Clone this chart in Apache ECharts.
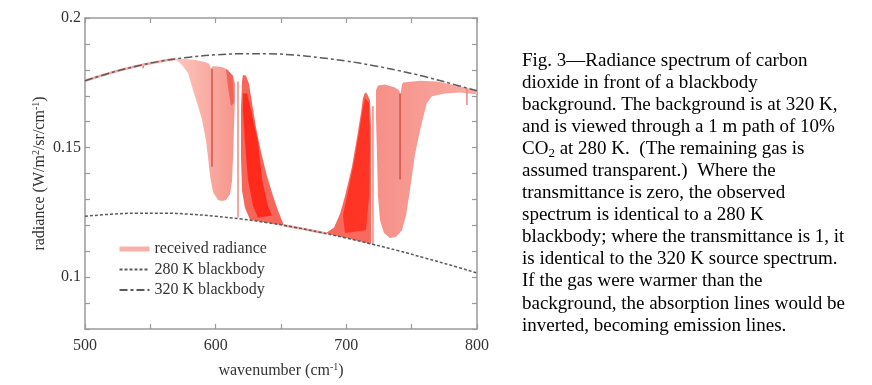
<!DOCTYPE html>
<html><head><meta charset="utf-8">
<script src="https://cdn.jsdelivr.net/npm/echarts@6/dist/echarts.min.js"></script>
<style>html,body{margin:0;padding:0;background:#fff}#c{width:872px;height:385px}</style>
</head><body><div id="c"></div>
<script>
// ---- data ----
const wavenumbers = [500,520,540,560,580,600,620,640,660,680,700,720,740,760,780,800];
const bb320 = [0.1758,0.1789,0.1815,0.1835,0.1849,0.1858,0.1862,0.1862,0.1857,0.1847,0.1834,0.1817,0.1797,0.1774,0.1747,0.1719];
const bb280 = [0.1235,0.1243,0.1247,0.1247,0.1243,0.1235,0.1224,0.1210,0.1193,0.1173,0.1151,0.1127,0.1102,0.1074,0.1046,0.1016];
const xTicks = [500,600,700,800];
const yTicks = [0.1,0.15,0.2];

// received radiance where it coincides with a blackbody curve
const receivedLeft = [[500,0.1758],[520,0.1789],[540,0.1815],[560,0.1835],[569,0.1842]];
const receivedMid = [[652,0.1199],[660,0.1193],[670,0.1183],[680,0.1173],[685,0.1168]];

// envelopes of the received radiance (wavenumber, radiance)
const pBranchPink = [[568.1,0.1843],[576.5,0.1842],[584.2,0.1838],[591.8,0.1830],[594.9,0.1823],[596.4,0.1804],[598.0,0.1815],[604.8,0.1811],[609.4,0.1800],[613.3,0.1774],[614.8,0.1747],[614.8,0.1691],[614.0,0.1577],[613.3,0.1464],[612.5,0.1370],[611.0,0.1321],[607.9,0.1298],[604.8,0.1294],[601.8,0.1298],[598.0,0.1328],[595.7,0.1389],[594.1,0.1464],[592.6,0.1528],[589.5,0.1608],[586.5,0.1660],[582.7,0.1721],[578.8,0.1789],[574.2,0.1819],[569.6,0.1838]];
const pBranchStreak = [[607.9,0.1804],[613.3,0.1777],[614.0,0.1672],[611.7,0.1660],[609.4,0.1736]];
const pBranchRed = [[620.9,0.1781],[623.2,0.1777],[625.5,0.1747],[627.8,0.1672],[630.9,0.1577],[634.7,0.1483],[639.3,0.1389],[643.9,0.1313],[647.7,0.1257],[652.3,0.1199],[645,0.1205],[638,0.1212],[630,0.1218],[626.3,0.1222],[622.4,0.1268],[620.2,0.1332],[619.4,0.1464],[619.4,0.1653],[620.2,0.1758]];
const pBranchCore = [[620.9,0.1709],[624.0,0.1709],[627.0,0.1645],[632.4,0.1521],[635.5,0.1377],[640.0,0.1275],[643.1,0.1238],[632.4,0.1230],[628.6,0.1275],[624.7,0.1377],[622.4,0.1521],[620.9,0.1645]];
const rBranchRed = [[714.3,0.1713],[715.8,0.1709],[718.1,0.1683],[718.9,0.1577],[718.9,0.1389],[718.9,0.1238],[718.9,0.1129],[710,0.1139],[700,0.1151],[690,0.1162],[684.4,0.1170],[690.6,0.1192],[695.2,0.1245],[699.0,0.1313],[704.3,0.1426],[708.2,0.1540],[711.2,0.1634],[712.7,0.1691]];
const rBranchCore = [[714.3,0.1691],[717.4,0.1672],[718.1,0.1502],[717.4,0.1313],[715.0,0.1181],[699.0,0.1170],[697.4,0.1238],[701.3,0.1332],[705.9,0.1445],[709.7,0.1558],[712.7,0.1653]];
const rBranchPink = [[722.7,0.1721],[724.2,0.1740],[729.6,0.1743],[737.2,0.1732],[740.3,0.1721],[741.4,0.1706],[742.6,0.1743],[743.4,0.1751],[756.4,0.1758],[769.4,0.1755],[781.6,0.1742],[792.3,0.1730],[800.0,0.1719],[800.0,0.1706],[787.0,0.1713],[775.5,0.1709],[765.6,0.1698],[761.7,0.1672],[758.7,0.1615],[755.6,0.1547],[752.5,0.1472],[750.2,0.1389],[748.0,0.1313],[745.7,0.1238],[742.6,0.1181],[738.0,0.1155],[733.4,0.1151],[728.8,0.1170],[725.8,0.1219],[724.2,0.1313],[723.5,0.1464],[722.7,0.1615],[722.7,0.1691]];
// single strong lines
const line597 = [[597.2,0.1804],[597.2,0.1426]];
const line617 = [[617.1,0.1755],[617.1,0.1230]];
const line720 = [[720.3,0.1660],[720.3,0.1128]];
const line741 = [[741.1,0.1709],[741.1,0.1377]];
const line792 = [[792.3,0.1728],[792.3,0.1664]];
const line544 = [[544.5,0.1819],[544.5,0.1806]];

const captionLines = [
 "Fig. 3\u2014Radiance spectrum of carbon",
 "dioxide in front of a blackbody",
 "background. The background is at 320 K,",
 "and is viewed through a 1 m path of 10%",
 "{a|CO}{s|2}{a| at 280 K.  (The remaining gas is}",
 "assumed transparent.)  Where the",
 "transmittance is zero, the observed",
 "spectrum is identical to a 280 K",
 "blackbody; where the transmittance is 1, it",
 "is identical to the 320 K source spectrum.",
 "If the gas were warmer than the",
 "background, the absorption lines would be",
 "inverted, becoming emission lines."
];

// ---- chart ----
const SERIF = '"Liberation Serif", "Times New Roman", serif';
const chart = echarts.init(document.getElementById('c'), null, {renderer:'canvas'});

function polySeries(pts, fill, z) {
  return {
    type:'custom', data: pts, encode:{x:0,y:1}, z: z, silent:true, clip:true,
    renderItem: function (params, api) {
      if (params.dataIndex !== 0) return null;
      return { type:'polygon', shape:{ points: pts.map(p => api.coord(p)) }, style:{ fill: fill, stroke: null } };
    }
  };
}
function segSeries(pts, color, width) {
  return { type:'line', data: pts, symbol:'none', silent:true, z:3, lineStyle:{color:color, width:width}, itemStyle:{color:color} };
}
const curvePts = arr => wavenumbers.map((w,i)=>[w, arr[i]]);
const isTick = (v, list) => list.some(t => Math.abs(t - v) < 1e-6);

const axisCommon = {
  type:'value',
  axisLine:{ show:true, lineStyle:{ color:'#9a9a9a', width:1.5 } },
  axisTick:{ show:true, inside:true, length:5, lineStyle:{ color:'#9a9a9a', width:1.2 } },
  splitLine:{ show:false }
};

const pinkGrad = new echarts.graphic.LinearGradient(0,0,1,0,[{offset:0,color:'#fcc8c0'},{offset:1,color:'#f6958b'}]);
const rPinkGrad = new echarts.graphic.LinearGradient(0,0,1,0,[{offset:0,color:'#f69088'},{offset:1,color:'#f9aaa2'}]);

const graphics = captionLines.map((t,i) => ({
  type:'text', x:522, y:60.7 + i*22.08, silent:true,
  style:{
    text:t, fill:'#000', font:'19px ' + SERIF, verticalAlign:'middle', align:'left',
    rich:{ a:{ fontSize:19, fontFamily:SERIF, color:'#000', lineHeight:22 }, s:{ fontSize:13, fontFamily:SERIF, color:'#000', lineHeight:22, padding:[9,0,0,0] } }
  }
}));

chart.setOption({
  animation:false,
  backgroundColor:'#fff',
  grid:{ left:85, right:395, top:18, bottom:50 },
  xAxis:[
    Object.assign({}, axisCommon, {
      min:500, max:800, interval:50, position:'bottom',
      axisLabel:{ show:true, margin:9, color:'#333', fontSize:16, fontFamily:SERIF,
        formatter: v => isTick(v, xTicks) ? String(v) : '' },
      name:'{n|wavenumber (cm}{s|-1}{n|)}', nameLocation:'middle', nameGap:32,
      nameTextStyle:{ rich:{ n:{fontSize:16, fontFamily:SERIF, color:'#333', lineHeight:20}, s:{fontSize:10, fontFamily:SERIF, color:'#333', lineHeight:20, padding:[0,0,8,0]} } }
    }),
    Object.assign({}, axisCommon, { min:500, max:800, interval:50, position:'top', axisLabel:{show:false} })
  ],
  yAxis:[
    Object.assign({}, axisCommon, {
      min:0.08, max:0.2, interval:0.01, position:'left',
      axisLabel:{ show:true, margin:4, color:'#333', fontSize:16, fontFamily:SERIF,
        formatter: v => isTick(v, yTicks) ? String(Math.round(v*100)/100) : '' },
      name:'{n|radiance (W/m}{s|2}{n|/sr/cm}{s|-1}{n|)}', nameLocation:'middle', nameGap:32, nameRotate:90,
      nameTextStyle:{ rich:{ n:{fontSize:16, fontFamily:SERIF, color:'#333', lineHeight:20}, s:{fontSize:10, fontFamily:SERIF, color:'#333', lineHeight:20, padding:[0,0,8,0]} } }
    }),
    Object.assign({}, axisCommon, { min:0.08, max:0.2, interval:0.01, position:'right', axisLabel:{show:false} })
  ],
  legend:{
    orient:'vertical', left:112, top:236, itemWidth:30, itemHeight:14, itemGap:4.5,
    itemStyle:{ opacity:0 },
    textStyle:{ fontSize:16, fontFamily:SERIF, color:'#333' },
    data:[
      { name:'received radiance', lineStyle:{ width:5, color:'#f8b0ac' } },
      { name:'280 K blackbody' },
      { name:'320 K blackbody' }
    ]
  },
  graphic: graphics,
  series:[
    polySeries(pBranchPink, pinkGrad, 1),
    polySeries(pBranchStreak, 'rgba(240,80,70,0.75)', 2),
    polySeries(pBranchRed, '#f6665a', 1),
    polySeries(pBranchCore, '#ff2a1c', 2),
    polySeries(rBranchRed, '#f86a5e', 1),
    polySeries(rBranchCore, '#ff3424', 2),
    polySeries(rBranchPink, rPinkGrad, 1),
    segSeries(line597, '#c8403a', 1.2),
    segSeries(line617, '#f4a6a0', 2),
    segSeries(line720, '#f3a098', 2),
    segSeries(line741, '#c8403a', 1.2),
    segSeries(line792, '#e8867e', 1.5),
    segSeries(line544, '#d06a64', 1.2),
    { name:'received radiance', type:'line', data: receivedLeft, symbol:'none', z:3, smooth:true,
      lineStyle:{ color:'#f6a8a4', width:2.5 }, itemStyle:{ color:'#f8b4b0' } },
    { name:'received radiance', type:'line', data: receivedMid, symbol:'none', z:3, smooth:true,
      lineStyle:{ color:'#f6a8a4', width:2.5 }, itemStyle:{ color:'#f8b4b0' } },
    { name:'280 K blackbody', type:'line', data: curvePts(bb280), symbol:'none', smooth:0.4, z:5,
      lineStyle:{ color:'#5a5a5a', width:1.5, type:[3,2] }, itemStyle:{ color:'#5a5a5a' } },
    { name:'320 K blackbody', type:'line', data: curvePts(bb320), symbol:'none', smooth:0.4, z:5,
      lineStyle:{ color:'#5a5a5a', width:1.5, type:[8,3,3,3] }, itemStyle:{ color:'#5a5a5a' } }
  ]
});
</script></body></html>
